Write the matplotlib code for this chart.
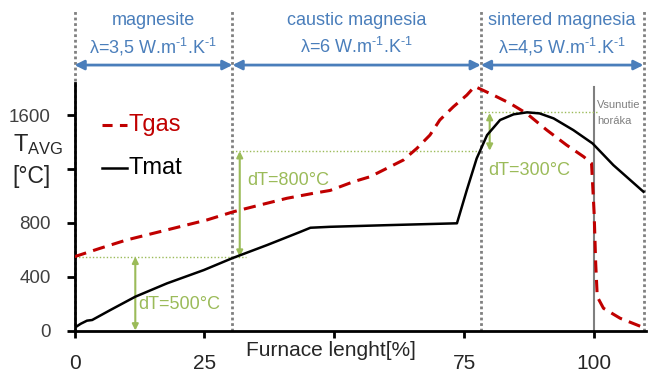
import numpy as np
import matplotlib.pyplot as plt

# ---------------------------------------------
# fonts
# ---------------------------------------------
plt.rcParams['font.family'] = ['Liberation Sans', 'DejaVu Sans']
plt.rcParams['mathtext.fontset'] = 'custom'
plt.rcParams['mathtext.rm'] = 'Liberation Sans'
plt.rcParams['mathtext.it'] = 'Liberation Sans:italic'

# ---------------------------------------------
# data
# ---------------------------------------------
x_gas = [0, 4.9, 10.0, 15.2, 20.3, 25.5, 30.6, 35.7, 40.9, 46.0, 49.2, 53.7, 56.9,
         60.1, 63.3, 65.9, 68.4, 70.3, 72.9, 75.5, 77.0, 78.0, 80.6, 83.8, 87.0,
         90.9, 94.7, 98.0, 99.5, 100.0, 100.3, 100.6, 101.8, 105.0, 109.3]
t_gas = [548, 610, 672, 722, 771, 821, 882, 932, 982, 1019, 1040, 1105, 1142,
         1204, 1266, 1353, 1451, 1563, 1661, 1748, 1812, 1795, 1748, 1687, 1612,
         1488, 1377, 1290, 1241, 870, 499, 251, 165, 91, 25]

x_mat = [0, 1.2, 2.4, 3.4, 6.9, 11.7, 17.8, 24.9, 30.3, 37.1, 43.5, 45.4, 49.2,
         60, 73.6, 75.5, 77.4, 79.4, 81.9, 84.5, 87.1, 89.5, 92.2, 96.0, 99.7,
         103.7, 109.5]
t_mat = [20, 50, 73, 78, 152, 251, 350, 449, 536, 635, 733, 763, 770,
         782, 796, 1043, 1278, 1451, 1563, 1605, 1620, 1612, 1575, 1488, 1389,
         1228, 1030]

zones = ['magnesite', 'caustic magnesia', 'sintered magnesia']
lambdas = ['λ=3,5 W.m$^{\\text{-}1}$.K$^{\\text{-}1}$',
           'λ=6 W.m$^{\\text{-}1}$.K$^{\\text{-}1}$',
           'λ=4,5 W.m$^{\\text{-}1}$.K$^{\\text{-}1}$']
zone_edges = [0, 30.4, 78.2, 109.5]

# dT annotations: x of arrow, low T, high T, label
dt_x = [11.7, 31.8, 79.9]
dt_lo = [0, 548, 1335]
dt_hi = [548, 1332, 1615]
dt_lbl = ['dT=500°C', 'dT=800°C', 'dT=300°C']
dt_txt_x = [12.2, 33.2, 79.7]
dt_txt_y = [190, 1116, 1191]

x_ticks = [0, 25, 50, 75, 100]
x_tick_lbl = ['0', '25', '', '75', '100']
y_ticks = [0, 400, 800, 1200, 1600]
y_tick_lbl = ['0', '400', '800', '', '1600']

red = '#C00000'
green = '#9BBB59'
blue = '#4A7EBB'
grey = '#808080'

# ---------------------------------------------
# figure
# ---------------------------------------------
fig = plt.figure(figsize=(6.54, 3.78), dpi=100)
ax = fig.add_axes([74.5 / 654, 47.5 / 378, 571.6 / 654, 247.8 / 378])
ax.set_xlim(0, 110)
ax.set_ylim(0, 1840)

# zone borders (dotted, going up above the axes)
for xe in zone_edges:
    ax.plot([xe, xe], [0, 2380], color=grey, lw=2, ls=(0, (1, 1)),
            clip_on=False, zorder=1)

# zone arrows and texts
for i in range(3):
    ax.annotate('', xy=(zone_edges[i], 1971), xytext=(zone_edges[i + 1], 1971),
                arrowprops=dict(arrowstyle='<|-|>', color=blue, lw=2,
                                mutation_scale=14, shrinkA=0, shrinkB=0),
                annotation_clip=False)
    xm = (zone_edges[i] + zone_edges[i + 1]) / 2
    ax.text(xm, 2300, zones[i], color=blue, fontsize=13, ha='center', va='center')
    ax.text(xm, 2105, lambdas[i], color=blue, fontsize=13, ha='center', va='center')

# burner position
ax.plot([100, 100], [0, 1810], color='#7F7F7F', lw=1.5, zorder=2)
ax.text(100.6, 1674, 'Vsunutie', color='#7F7F7F', fontsize=8, va='center')
ax.text(100.6, 1558, 'horáka', color='#7F7F7F', fontsize=8, va='center')

# green helper lines
ax.plot([0, 33], [548, 548], color=green, lw=1, ls=(0, (1, 1.5)))
ax.plot([30.4, 78.5], [1332, 1332], color=green, lw=1, ls=(0, (1, 1.5)))
ax.plot([78.2, 100.5], [1620, 1620], color=green, lw=1, ls=(0, (1, 1.5)))
for i in range(3):
    ax.annotate('', xy=(dt_x[i], dt_hi[i]), xytext=(dt_x[i], dt_lo[i]),
                arrowprops=dict(arrowstyle='<|-|>', color=green, lw=1.5,
                                mutation_scale=9, shrinkA=0, shrinkB=0))
    ax.text(dt_txt_x[i], dt_txt_y[i], dt_lbl[i], color=green, fontsize=13, va='center')

# curves
ax.plot(x_gas, t_gas, color=red, lw=2.2, dashes=(4, 2.4), zorder=4)
ax.plot(x_mat, t_mat, color='black', lw=1.8, zorder=5)

# legend drawn by hand
ax.plot([5.3, 10.1], [1525, 1525], color=red, lw=2.2, dashes=(3.3, 2.4))
ax.text(10.4, 1525, 'Tgas', color=red, fontsize=17, va='center')
ax.plot([5.3, 10.1], [1206, 1206], color='black', lw=1.8)
ax.text(10.4, 1206, 'Tmat', color='black', fontsize=17, va='center')

# axes styling
for s in ['top', 'right']:
    ax.spines[s].set_visible(False)
for s in ['left', 'bottom']:
    ax.spines[s].set_linewidth(2)
ax.set_xticks(x_ticks)
ax.set_xticklabels(x_tick_lbl)
ax.set_yticks(y_ticks)
ax.set_yticklabels(y_tick_lbl)
ax.tick_params(axis='x', length=5, width=2, labelsize=15, pad=12, labelcolor='#262626')
ax.tick_params(axis='y', length=6, width=2, labelsize=13.5, pad=11, labelcolor='#404040')

ax.text(49.3, -152, 'Furnace lenght[%]', fontsize=15, ha='center', va='center',
        color='#262626')

fig.text(13 / 654, 1 - 145 / 378, 'T$_{\\mathrm{AVG}}$', fontsize=17, va='center',
         color='#262626')
fig.text(12 / 654, 1 - 177 / 378, '[°C]', fontsize=16.5, va='center', color='#262626')

plt.savefig('out.png', dpi=100)
